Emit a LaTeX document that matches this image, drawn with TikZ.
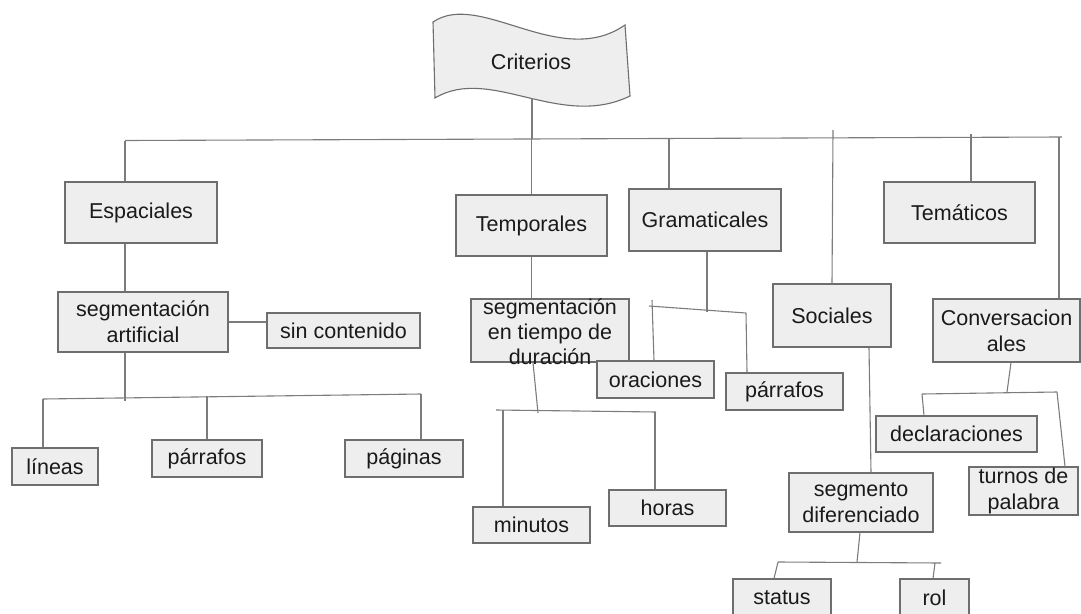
\documentclass[tikz,border=0pt]{standalone}
\usepackage{fontspec}
\setmainfont{Liberation Sans}
\definecolor{boxfill}{HTML}{EEEEEE}
\definecolor{boxline}{HTML}{6E6E6E}
\definecolor{wire}{HTML}{7C7C7C}
\definecolor{ink}{HTML}{1A1A1A}
\begin{document}
\begin{tikzpicture}[x=1pt,y=-1pt,
  box/.style={draw=boxline, fill=boxfill, line width=1.1pt, inner sep=0pt,
    align=center, text=ink, font=\fontsize{21.5}{26}\selectfont},
  sz/.style 2 args={minimum width=#1pt, minimum height=#2pt},
  lbl/.style={inner sep=0pt, align=center, text=ink, font=\fontsize{21.5}{25}\selectfont},
  wirel/.style={draw=wire, line width=1.1pt}]

\useasboundingbox (0,0) rectangle (1081,613);

% banner at the top
\path[draw=boxline, fill=boxfill, line width=1.1pt]
  (433,22) .. controls (480,-10) and (560,70) .. (625,25)
  -- (630,96) .. controls (560,130) and (490,65) .. (435,98) -- cycle;
\node[lbl] (crit) at (531,62) {Criterios};

% first level
\node[box, sz={152}{61}] (esp)   at (141,212.5)  {Espaciales};
\node[box, sz={151}{61}] (tem)   at (531.5,225.5) {Temporales};
\node[box, sz={152}{62}] (gram)  at (705,220)    {Gramaticales};
\node[box, sz={118}{63}] (soc)   at (832,315.5)  {Sociales};
\node[box, sz={151}{61}] (temat) at (959.5,212.5) {Temáticos};
\node[box, sz={147}{63}] (conv)  at (1006.5,330.5) {Conversacion\\ales};

% spatial branch
\node[box, sz={170}{60}] (segart)  at (143,322)    {segmentación\\artificial};
\node[box, sz={153}{35}] (sincont) at (343.5,330.5) {sin contenido};
\node[box, sz={86}{37}]  (lin)     at (55,466.5)   {líneas};
\node[box, sz={110}{37}] (par1)    at (207,458.5)  {párrafos};
\node[box, sz={118}{37}] (pag)     at (404,458.5)  {páginas};

% temporal branch
\node[box, sz={158}{63}] (seg2) at (550,330.5) {};
\node[lbl] (seg2t) at (550,332) {segmentación\\en tiempo de\\duración};
\node[box, sz={117}{36}] (minu) at (531.5,525) {minutos};
\node[box, sz={117}{36}] (hor)  at (667.5,508) {horas};

% grammatical branch
\node[box, sz={117}{37}] (orac) at (655.5,379.5) {oraciones};
\node[box, sz={117}{37}] (par2) at (784.5,391.5) {párrafos};

% social branch
\node[box, sz={144}{59}] (segd) at (861,502.5) {segmento\\diferenciado};
\node[box, sz={98}{38}]  (stat) at (782,598)   {status};
\node[box, sz={69}{38}]  (rol)  at (934.5,598) {rol};

% conversational branch
\node[box, sz={161}{36}] (decl) at (956.5,434)  {declaraciones};
\node[box, sz={109}{48}] (turn) at (1023.5,491) {turnos de\\palabra};

% junction points
\coordinate (critfoot) at (532,98);
\coordinate (barL) at (125,140.5);
\coordinate (barR) at (1062,137);
\coordinate (barM) at (532,139);
\coordinate (gTop) at (669,138.5);
\coordinate (sTop) at (833,130);
\coordinate (tTop) at (971,134);
\coordinate (cTop) at (1059,137);

\coordinate (b2L) at (43,399);
\coordinate (b2R) at (421,394);
\coordinate (b2M) at (125,401);
\coordinate (b2P) at (207,396);

\coordinate (mJ) at (538,413);
\coordinate (mL) at (496,410);
\coordinate (mR) at (656,412);
\coordinate (mA) at (503,410);
\coordinate (mB) at (655,412);

\coordinate (gJ) at (707,312);
\coordinate (gL) at (649,306);
\coordinate (gR) at (746,313);
\coordinate (gA) at (652,300);

\coordinate (sJ) at (857,562);
\coordinate (sL) at (778,562);
\coordinate (sR) at (941,563);
\coordinate (sB) at (935,563);

\coordinate (cJ) at (1007,392);
\coordinate (cL) at (922,394);
\coordinate (cR) at (1057,392);

% top level connectors
\draw[wirel] (critfoot) -- (barM);
\draw[wirel] (barL) -- (barR);
\draw[wirel] (barL) -- (esp.north -| barL);
\draw[wirel] (tem.north |- barM) -- (tem.north);
\draw[wirel] (gTop) -- (gram.north -| gTop);
\draw[wirel] (sTop) -- (soc.north);
\draw[wirel] (tTop) -- (temat.north -| tTop);
\draw[wirel] (cTop) -- (conv.north -| cTop);

% spatial connectors
\draw[wirel] (esp.south -| barL) -- (segart.north -| barL);
\draw[wirel] (segart.east) -- (segart.east -| sincont.west);
\draw[wirel] (segart.south -| barL) -- (b2M);
\draw[wirel] (b2L) -- (b2R);
\draw[wirel] (b2L) -- (lin.north -| b2L);
\draw[wirel] (b2P) -- (par1.north);
\draw[wirel] (b2R) -- (pag.north -| b2R);

% temporal connectors
\draw[wirel] (tem.south) -- (tem.south |- seg2.north);
\draw[wirel] ([xshift=-17pt]seg2.south) -- (mJ);
\draw[wirel] (mL) -- (mR);
\draw[wirel] (mA) -- (minu.north -| mA);
\draw[wirel] (mB) -- (hor.north -| mB);

% grammatical connectors
\draw[wirel] (gram.south -| gJ) -- (gJ);
\draw[wirel] (gL) -- (gR);
\draw[wirel] (gA) -- ([xshift=-1.5pt]orac.north);
\draw[wirel] (gR) -- ([xshift=-37.5pt]par2.north);

% social connectors
\draw[wirel] ([xshift=37pt]soc.south) -- ([xshift=10pt]segd.north);
\draw[wirel] ([xshift=-1pt]segd.south) -- (sJ);
\draw[wirel] (sL) -- (sR);
\draw[wirel] (sL) -- ([xshift=-8pt]stat.north);
\draw[wirel] (sB) -- ([xshift=-1.5pt]rol.north);

% conversational connectors
\draw[wirel] ([xshift=4.5pt]conv.south) -- (cJ);
\draw[wirel] (cL) -- (cR);
\draw[wirel] (cL) -- ([xshift=-32.5pt]decl.north);
\draw[wirel] (cR) -- ([xshift=41.5pt]turn.north);
\end{tikzpicture}
\end{document}
